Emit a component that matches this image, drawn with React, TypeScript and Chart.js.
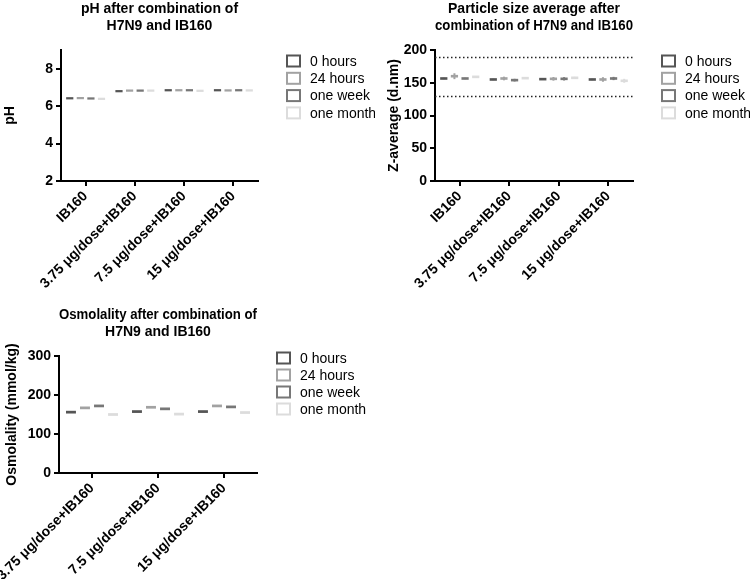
import React, { useEffect, useRef } from "react";
import { Chart, registerables } from "chart.js";

Chart.register(...registerables);

const FONT = "'Liberation Sans', Arial, Helvetica, sans-serif";

// ---- shared series ----
const seriesNames = ["0 hours", "24 hours", "one week", "one month"];
const seriesColors = ["#555555", "#a2a2a2", "#777777", "#dcdcdc"];

// ---- pH panel ----
const phCategories = ["IB160", "3.75 μg/dose+IB160", "7.5 μg/dose+IB160", "15 μg/dose+IB160"];
const ph0h = [6.42, 6.8, 6.85, 6.85];
const ph24h = [6.43, 6.83, 6.85, 6.84];
const ph1w = [6.41, 6.83, 6.85, 6.85];
const ph1m = [6.39, 6.83, 6.82, 6.84];
const phHalfBox = 0.06;
const phTicks = { min: 2, max: 9, step: 2 };

// ---- particle size panel ----
const sizeCategories = ["IB160", "3.75 μg/dose+IB160", "7.5 μg/dose+IB160", "15 μg/dose+IB160"];
const size0h = [156.5, 155, 155.5, 155];
const size24h = [160, 156.5, 156, 155];
const size1w = [156.5, 154, 156, 156.5];
const size1m = [159, 157, 157.5, 153];
const sizeErr0h = [1, 1, 1, 1];
const sizeErr24h = [4.5, 2.8, 2.8, 3.5];
const sizeErr1w = [1, 2, 2.5, 2.5];
const sizeErr1m = [1, 1, 1.5, 3];
const sizeHalfBox = 2;
const sizeLimits = [190, 130];
const sizeTicks = { min: 0, max: 200, step: 50 };

// ---- osmolality panel ----
const osmoCategories = ["3.75 μg/dose+IB160", "7.5 μg/dose+IB160", "15 μg/dose+IB160"];
const osmo0h = [156, 157.5, 157.5];
const osmo24h = [167, 168.5, 172];
const osmo1w = [172, 164.5, 169.5];
const osmo1m = [150, 151, 155];
const osmoHalfBox = 3.5;
const osmoTicks = { min: 0, max: 300, step: 100 };

// ---- plugins ----
const boxLegendPlugin = {
  id: "boxLegend",
  afterDraw(chart: any, _args: any, opts: any) {
    const { ctx, chartArea } = chart;
    ctx.save();
    ctx.font = `14px ${FONT}`;
    ctx.textBaseline = "middle";
    ctx.textAlign = "left";
    opts.names.forEach((name: string, i: number) => {
      const x = chartArea.right + opts.dx;
      const y = chartArea.top + opts.dy + i * opts.step;
      ctx.strokeStyle = opts.colors[i];
      ctx.lineWidth = 2;
      ctx.strokeRect(x, y - 5.5, 13, 11);
      ctx.fillStyle = "#000";
      ctx.fillText(name, x + 23, y + 1);
    });
    ctx.restore();
  },
};

const errorBarPlugin = {
  id: "errorBars",
  afterDatasetsDraw(chart: any, _args: any, opts: any) {
    if (!opts.errors) return;
    const { ctx } = chart;
    const yScale = chart.scales.y;
    ctx.save();
    opts.errors.forEach((errs: number[], i: number) => {
      const meta = chart.getDatasetMeta(i);
      meta.data.forEach((bar: any, j: number) => {
        const c = opts.centers[i][j];
        const e = errs[j];
        const y1 = yScale.getPixelForValue(c - e);
        const y2 = yScale.getPixelForValue(c + e);
        ctx.strokeStyle = opts.colors[i];
        ctx.lineWidth = 2;
        ctx.beginPath();
        ctx.moveTo(bar.x, y1);
        ctx.lineTo(bar.x, y2);
        ctx.stroke();
      });
    });
    ctx.restore();
  },
};

const refLinePlugin = {
  id: "refLines",
  beforeDatasetsDraw(chart: any, _args: any, opts: any) {
    if (!opts.values) return;
    const { ctx, chartArea } = chart;
    const yScale = chart.scales.y;
    ctx.save();
    ctx.strokeStyle = "#222";
    ctx.lineWidth = 1.5;
    ctx.setLineDash([1.5, 2.5]);
    opts.values.forEach((v: number) => {
      const y = Math.round(yScale.getPixelForValue(v)) + 0.5;
      ctx.beginPath();
      ctx.moveTo(chartArea.left, y);
      ctx.lineTo(chartArea.right, y);
      ctx.stroke();
    });
    ctx.restore();
  },
};

type Spec = {
  left: number;
  top: number;
  width: number;
  height: number;
  title: string[];
  titleTop: number;
  chartLeft: number;
  chartRight: number;
  chartTop: number;
  chartBottom: number;
  yTitle: string;
  yTitlePad: number;
  ticks: { min: number; max: number; step: number };
  categories: string[];
  values: number[][];
  halfBox: number;
  errors?: number[][];
  refLines?: number[];
  catPct: number;
  barPct: number;
  legendDx: number;
  legendDy: number;
  legendStep: number;
};

function buildConfig(s: Spec): any {
  const titleLine = 17.5;
  const titleBottom = s.chartTop - s.titleTop - titleLine * s.title.length;
  const axisGrid = {
    display: true,
    drawOnChartArea: false,
    drawTicks: true,
    tickLength: 5,
    color: "#000",
    lineWidth: 2,
    offset: false,
  };
  const axisBorder = { display: true, color: "#000", width: 2 };
  const tickFont = { family: FONT, size: 14, weight: "bold" as const };
  return {
    type: "bar",
    data: {
      labels: s.categories,
      datasets: seriesNames.map((name, i) => ({
        label: name,
        data: s.values[i].map((v) => [v - s.halfBox, v + s.halfBox]),
        backgroundColor: seriesColors[i],
        borderWidth: 0,
        borderSkipped: false,
        categoryPercentage: s.catPct,
        barPercentage: s.barPct,
      })),
    },
    plugins: [refLinePlugin, errorBarPlugin, boxLegendPlugin],
    options: {
      responsive: false,
      animation: false,
      devicePixelRatio: 1,
      layout: { padding: { left: 0, top: 0, right: s.width - s.chartRight, bottom: 0 } },
      plugins: {
        legend: { display: false },
        tooltip: { enabled: false },
        title: {
          display: true,
          text: s.title,
          fullSize: false,
          color: "#000",
          font: { family: FONT, size: 14, weight: "bold", lineHeight: 1.25 },
          padding: { top: s.titleTop, bottom: titleBottom },
        },
        boxLegend: {
          names: seriesNames,
          colors: seriesColors,
          dx: s.legendDx,
          dy: s.legendDy,
          step: s.legendStep,
        },
        errorBars: {
          errors: s.errors,
          centers: s.values,
          colors: seriesColors,
        },
        refLines: { values: s.refLines },
      },
      scales: {
        x: {
          type: "category",
          offset: true,
          grid: axisGrid,
          border: axisBorder,
          ticks: {
            color: "#000",
            font: tickFont,
            maxRotation: 45,
            minRotation: 45,
            autoSkip: false,
            padding: 2,
          },
          afterFit: (scale: any) => {
            scale.height = s.height - s.chartBottom;
            scale.paddingLeft = 0;
            scale.paddingRight = 0;
          },
        },
        y: {
          type: "linear",
          min: s.ticks.min,
          max: s.ticks.max,
          grid: axisGrid,
          border: axisBorder,
          ticks: {
            stepSize: s.ticks.step,
            includeBounds: false,
            color: "#000",
            font: tickFont,
            padding: 3,
          },
          title: {
            display: true,
            text: s.yTitle,
            color: "#000",
            font: { family: FONT, size: 14, weight: "bold" },
            padding: { top: s.yTitlePad, bottom: 0 },
          },
          afterFit: (scale: any) => {
            scale.width = s.chartLeft;
            scale.paddingTop = 0;
            scale.paddingBottom = 0;
          },
        },
      },
    },
  };
}

function Panel({ spec }: { spec: Spec }) {
  const ref = useRef<HTMLCanvasElement | null>(null);
  useEffect(() => {
    if (!ref.current) return;
    const chart = new Chart(ref.current, buildConfig(spec));
    return () => chart.destroy();
  }, [spec]);
  return (
    <div
      style={{
        position: "absolute",
        left: spec.left,
        top: spec.top,
        width: spec.width,
        height: spec.height,
      }}
    >
      <canvas ref={ref} width={spec.width} height={spec.height} style={{ display: "block" }} />
    </div>
  );
}

const phSpec: Spec = {
  left: 0,
  top: 0,
  width: 375,
  height: 290,
  title: ["pH after combination of", "H7N9 and IB160"],
  titleTop: 0,
  chartLeft: 61,
  chartRight: 258,
  chartTop: 50,
  chartBottom: 181,
  yTitle: "pH",
  yTitlePad: 2,
  ticks: phTicks,
  categories: phCategories,
  values: [ph0h, ph24h, ph1w, ph1m],
  halfBox: phHalfBox,
  catPct: 0.86,
  barPct: 0.68,
  legendDx: 29,
  legendDy: 11,
  legendStep: 17.3,
};

const sizeSpec: Spec = {
  left: 375,
  top: 0,
  width: 375,
  height: 290,
  title: ["Particle size average after", "combination of H7N9 and IB160"],
  titleTop: 0,
  chartLeft: 60,
  chartRight: 258,
  chartTop: 50,
  chartBottom: 181,
  yTitle: "Z-average (d.nm)",
  yTitlePad: 11,
  ticks: sizeTicks,
  categories: sizeCategories,
  values: [size0h, size24h, size1w, size1m],
  halfBox: sizeHalfBox,
  errors: [sizeErr0h, sizeErr24h, sizeErr1w, sizeErr1m],
  refLines: sizeLimits,
  catPct: 0.86,
  barPct: 0.68,
  legendDx: 29,
  legendDy: 11,
  legendStep: 17.3,
};

const osmoSpec: Spec = {
  left: 0,
  top: 290,
  width: 375,
  height: 289,
  title: ["Osmolality after combination of", "H7N9 and IB160"],
  titleTop: 16,
  chartLeft: 59,
  chartRight: 257,
  chartTop: 66,
  chartBottom: 183,
  yTitle: "Osmolality (mmol/kg)",
  yTitlePad: 4,
  ticks: osmoTicks,
  categories: osmoCategories,
  values: [osmo0h, osmo24h, osmo1w, osmo1m],
  halfBox: osmoHalfBox,
  catPct: 0.85,
  barPct: 0.71,
  legendDx: 20,
  legendDy: 2,
  legendStep: 17,
};

export default function App() {
  return (
    <div
      style={{
        position: "absolute",
        left: 0,
        top: 0,
        width: 750,
        height: 579,
        background: "#fff",
        fontFamily: FONT,
      }}
    >
      <Panel spec={phSpec} />
      <Panel spec={sizeSpec} />
      <Panel spec={osmoSpec} />
    </div>
  );
}
